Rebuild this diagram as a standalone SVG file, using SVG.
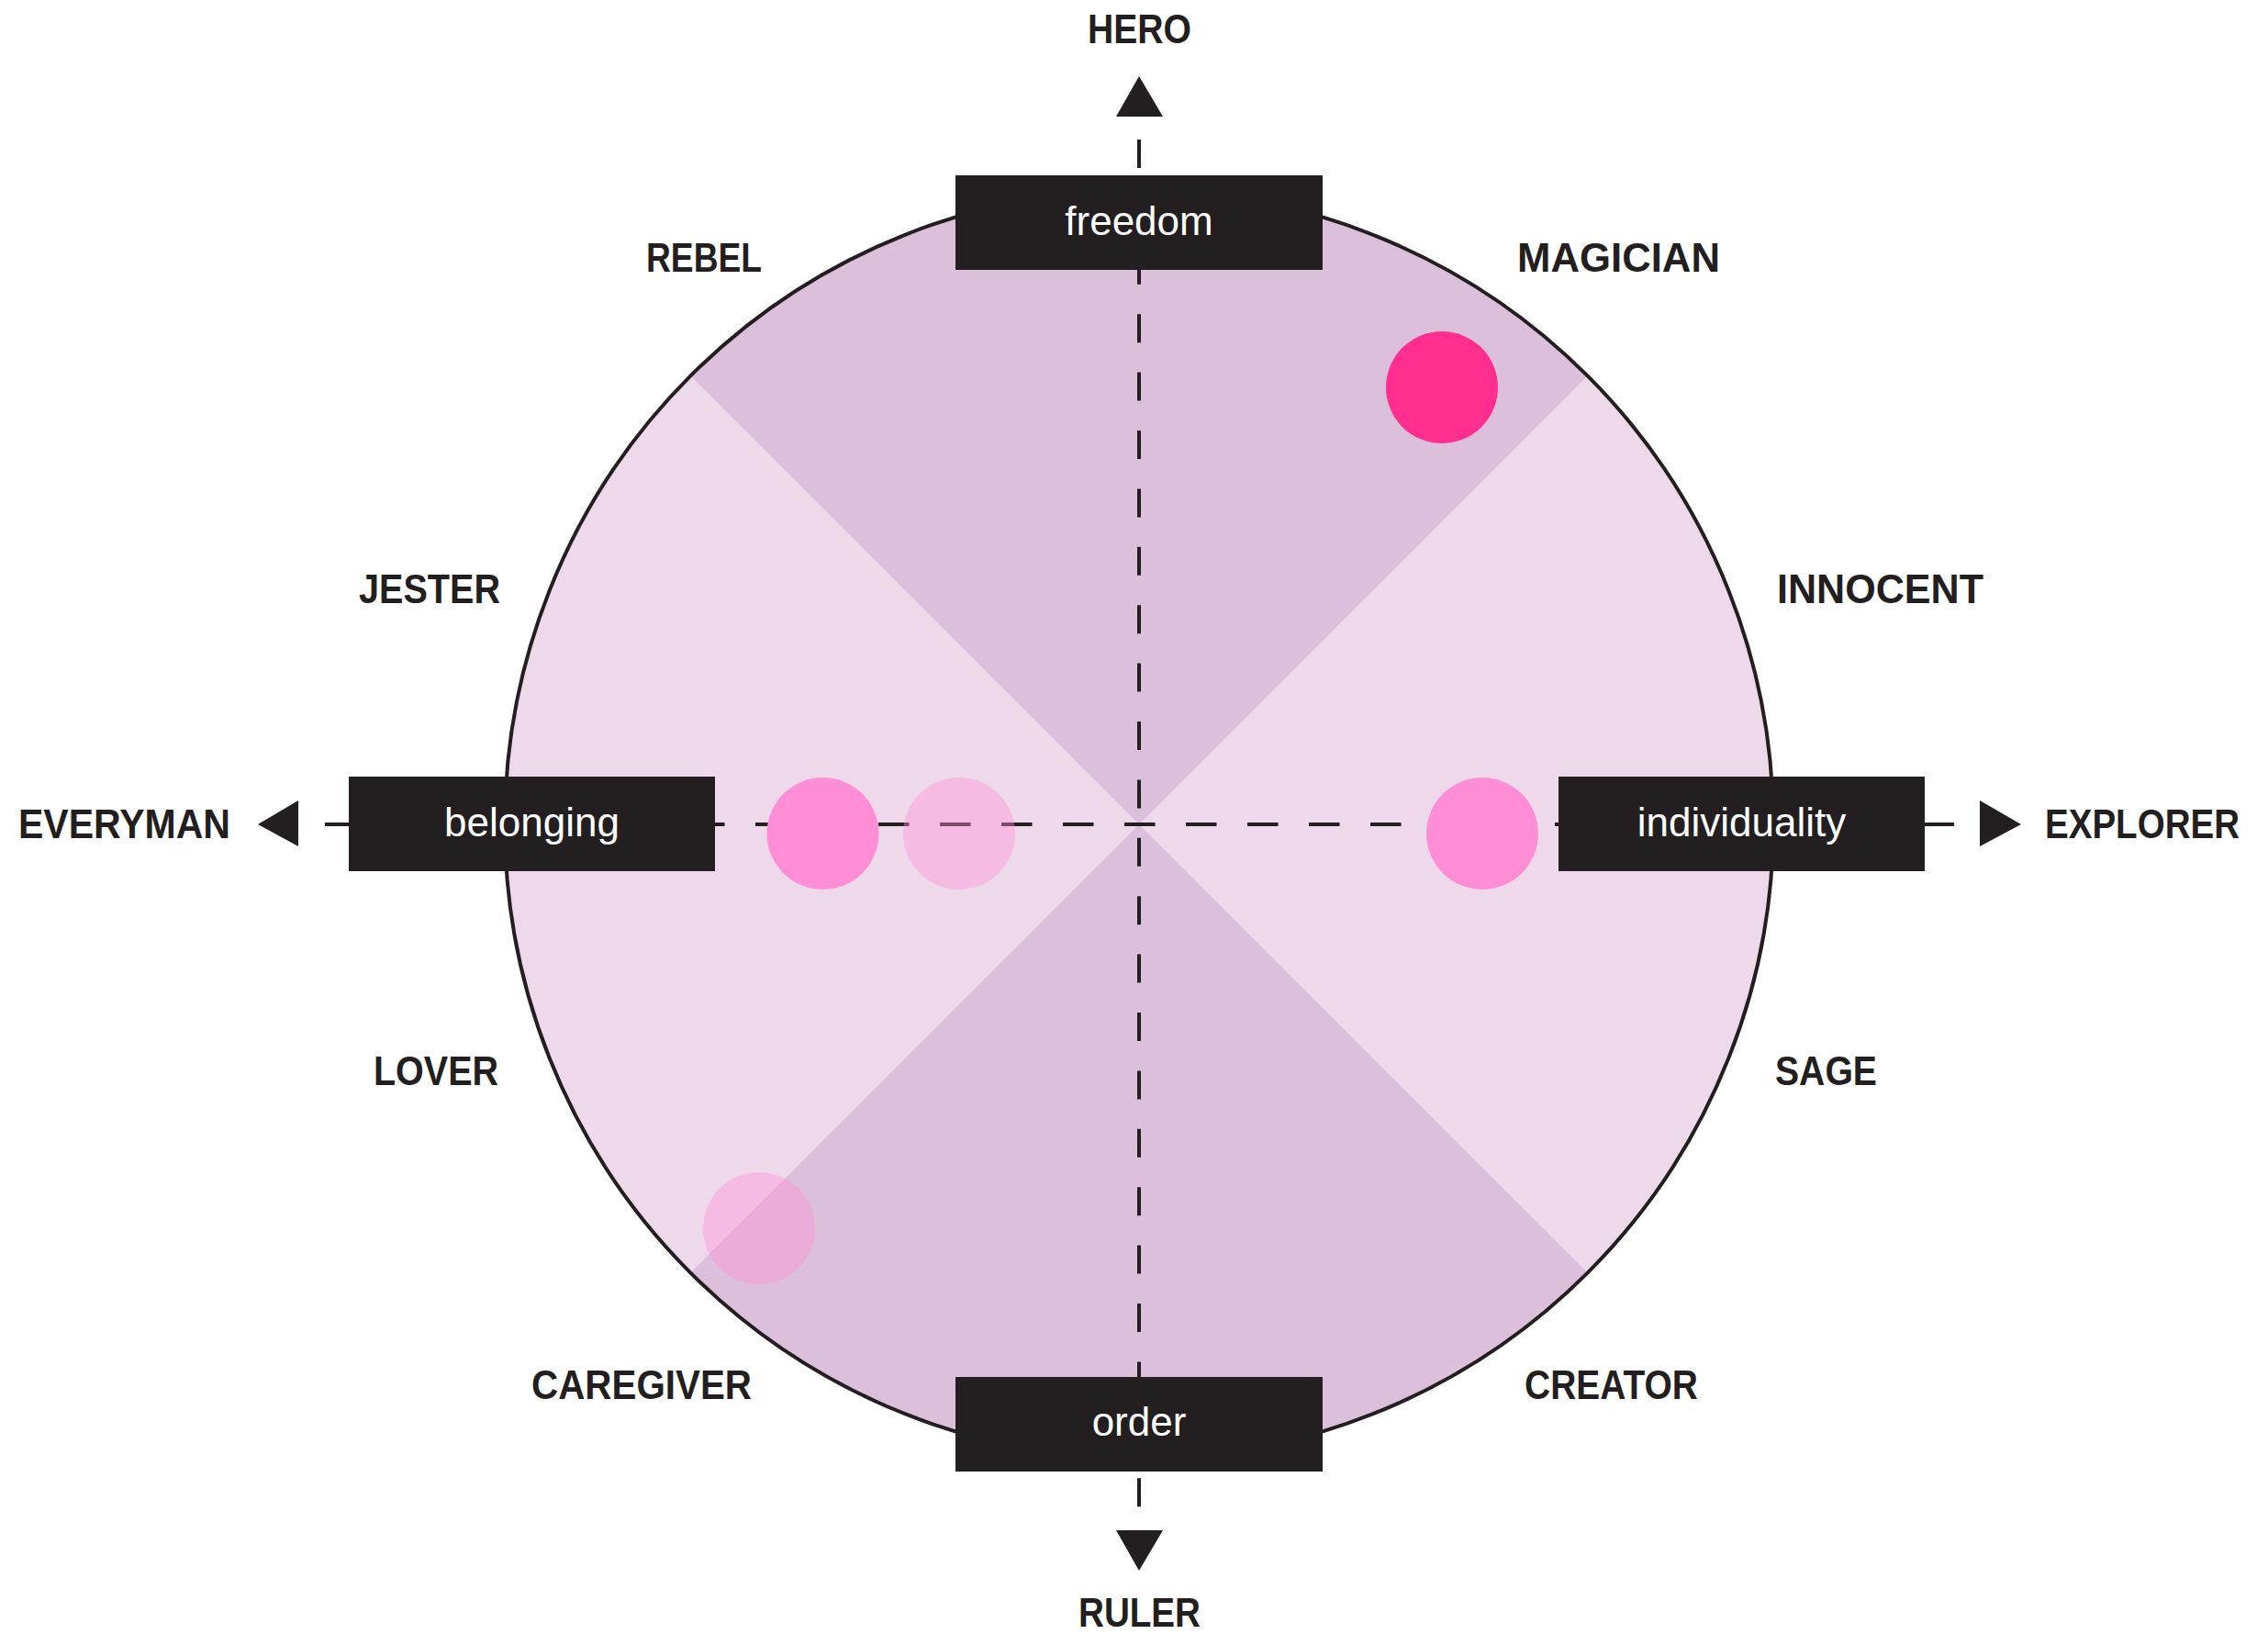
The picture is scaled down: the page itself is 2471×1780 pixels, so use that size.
<svg xmlns="http://www.w3.org/2000/svg" width="2471" height="1780" viewBox="0 0 2471 1780">
<style>
.lbl{font-family:"Liberation Sans",Arial,sans-serif;font-weight:700;font-size:44px;fill:#231f20}
.box{fill:#231f20}
.btxt{font-family:"Liberation Sans",Arial,sans-serif;font-size:44px;fill:#ffffff;text-anchor:middle}
.axis{stroke:#231f20;stroke-width:4;fill:none}
.arrow{fill:#231f20}
.dot{fill:#ff8ed6}
.dotT{fill:#ff8ed6;opacity:0.4}
</style>
<rect width="2471" height="1780" fill="#ffffff"/>
<g id="wheel">
  <circle cx="1241" cy="898" r="691" fill="#eed9ea"/>
  <path d="M1241,898 L752.4,409.4 A691,691 0 0 1 1729.6,409.4 Z" fill="#dcbfdb"/>
  <path d="M1241,898 L1729.6,1386.6 A691,691 0 0 1 752.4,1386.6 Z" fill="#dcbfdb"/>
  <circle cx="1241" cy="898" r="691" fill="none" stroke="#231f20" stroke-width="4"/>
</g>
<g id="connectors">
  <line class="axis" x1="1241" y1="152" x2="1241" y2="1643" stroke-dasharray="31 32.4"/>
  <line class="axis" x1="354" y1="898" x2="2129" y2="898" stroke-dasharray="33.5 33.5"/>
  <polygon class="arrow" points="1241,83 1216,127 1267,127"/>
  <polygon class="arrow" points="1216,1667 1267,1667 1241,1711"/>
  <polygon class="arrow" points="281,898 325,872 325,922"/>
  <polygon class="arrow" points="2202,898 2157,872 2157,922"/>
</g>
<g id="dots">
  <circle id="dot-magician" cx="1571" cy="422" r="61" fill="#ff2e8f"/>
  <circle id="dot-belonging-1" class="dot" cx="896.5" cy="908" r="61"/>
  <circle id="dot-belonging-2" class="dotT" cx="1045" cy="908" r="61"/>
  <circle id="dot-individuality" class="dot" cx="1615" cy="908" r="61"/>
  <circle id="dot-caregiver" class="dotT" cx="827" cy="1338" r="61"/>
</g>
<g id="node-freedom">
  <rect class="box" x="1041" y="191" width="400" height="103"/>
  <text class="btxt" x="1241" y="256">freedom</text>
</g>
<g id="node-order">
  <rect class="box" x="1041" y="1500" width="400" height="103"/>
  <text class="btxt" x="1241" y="1564">order</text>
</g>
<g id="node-belonging">
  <rect class="box" x="380" y="846" width="399" height="103"/>
  <text class="btxt" x="579.5" y="911">belonging</text>
</g>
<g id="node-individuality">
  <rect class="box" x="1698" y="846" width="399" height="103"/>
  <text class="btxt" x="1897.5" y="911">individuality</text>
</g>
<g id="labels">
  <text id="hero" class="lbl" x="1185" y="47" textLength="113" lengthAdjust="spacingAndGlyphs">HERO</text>
  <text id="rebel" class="lbl" x="704" y="296" textLength="126" lengthAdjust="spacingAndGlyphs">REBEL</text>
  <text id="magician" class="lbl" x="1653" y="296" textLength="221" lengthAdjust="spacingAndGlyphs">MAGICIAN</text>
  <text id="jester" class="lbl" x="391" y="657" textLength="154" lengthAdjust="spacingAndGlyphs">JESTER</text>
  <text id="innocent" class="lbl" x="1936" y="657" textLength="225" lengthAdjust="spacingAndGlyphs">INNOCENT</text>
  <text id="everyman" class="lbl" x="20" y="913" textLength="231" lengthAdjust="spacingAndGlyphs">EVERYMAN</text>
  <text id="explorer" class="lbl" x="2228" y="913" textLength="212" lengthAdjust="spacingAndGlyphs">EXPLORER</text>
  <text id="lover" class="lbl" x="407" y="1182" textLength="136" lengthAdjust="spacingAndGlyphs">LOVER</text>
  <text id="sage" class="lbl" x="1934" y="1182" textLength="111" lengthAdjust="spacingAndGlyphs">SAGE</text>
  <text id="caregiver" class="lbl" x="579" y="1524" textLength="240" lengthAdjust="spacingAndGlyphs">CAREGIVER</text>
  <text id="creator" class="lbl" x="1661" y="1524" textLength="189" lengthAdjust="spacingAndGlyphs">CREATOR</text>
  <text id="ruler" class="lbl" x="1175" y="1772" textLength="133" lengthAdjust="spacingAndGlyphs">RULER</text>
</g>
</svg>
